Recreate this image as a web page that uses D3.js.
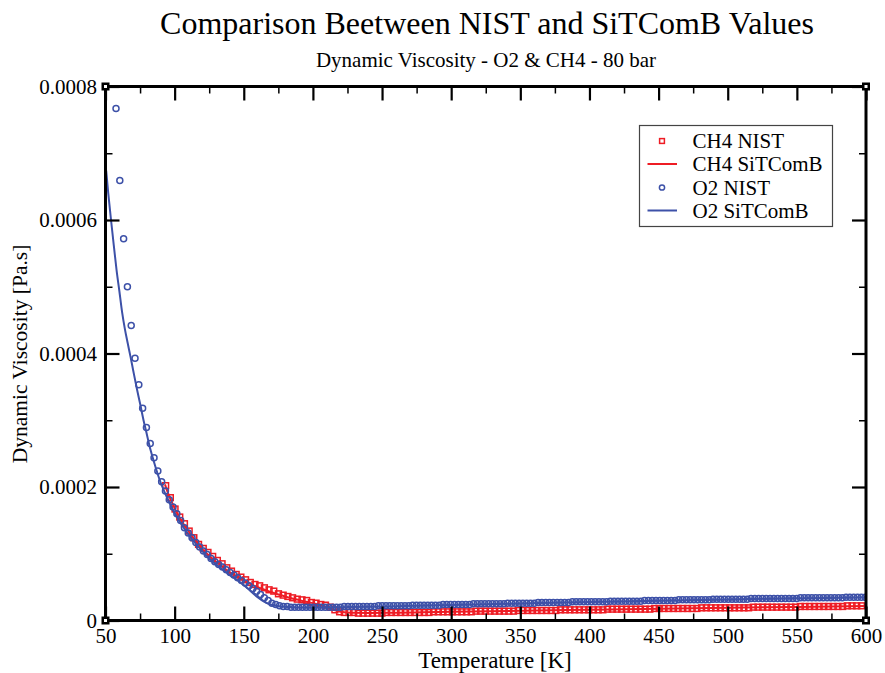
<!DOCTYPE html>
<html><head><meta charset="utf-8">
<script src="https://cdn.jsdelivr.net/npm/d3@7/dist/d3.min.js"></script>
<style>
html,body{margin:0;padding:0;background:#fff;}
text{font-family:"Liberation Serif","Times New Roman",serif;fill:#000;}
</style></head>
<body><svg id="chart" width="885" height="673"></svg>
<script>
// ---------- DATA (viscosity values in micro-Pa.s, i.e. 1e-6 Pa.s) ----------
const tempO2Nist = [
57.6,60.35,63.1,65.85,68.6,71.35,74.1,76.85,79.6,82.35,
85.1,87.85,90.6,93.35,96.1,98.85,101.6,104.35,107.1,109.85,
112.6,115.35,118.1,120.85,123.6,126.35,129.1,131.85,134.6,137.35,
140.1,142.85,145.6,148.35,151.1,153.85,156.6,159.35,162.1,164.85,
167.6,170.35,173.1,175.85,178.6,181.35,184.1,186.85,189.6,192.35,
195.1,197.85,200.6,203.35,206.1,208.85,211.6,214.35,217.1,219.85,
222.6,225.35,228.1,230.85,233.6,236.35,239.1,241.85,244.6,247.35,
250.1,252.85,255.6,258.35,261.1,263.85,266.6,269.35,272.1,274.85,
277.6,280.35,283.1,285.85,288.6,291.35,294.1,296.85,299.6,302.35,
305.1,307.85,310.6,313.35,316.1,318.85,321.6,324.35,327.1,329.85,
332.6,335.35,338.1,340.85,343.6,346.35,349.1,351.85,354.6,357.35,
360.1,362.85,365.6,368.35,371.1,373.85,376.6,379.35,382.1,384.85,
387.6,390.35,393.1,395.85,398.6,401.35,404.1,406.85,409.6,412.35,
415.1,417.85,420.6,423.35,426.1,428.85,431.6,434.35,437.1,439.85,
442.6,445.35,448.1,450.85,453.6,456.35,459.1,461.85,464.6,467.35,
470.1,472.85,475.6,478.35,481.1,483.85,486.6,489.35,492.1,494.85,
497.6,500.35,503.1,505.85,508.6,511.35,514.1,516.85,519.6,522.35,
525.1,527.85,530.6,533.35,536.1,538.85,541.6,544.35,547.1,549.85,
552.6,555.35,558.1,560.85,563.6,566.35,569.1,571.85,574.6,577.35,
580.1,582.85,585.6,588.35,591.1,593.85,596.6,599.35];
const visO2Nist = [
767,659,572,500,442,393,353,318,289,265,
244,224,208,194,181,170,160,150,139,131,
124,117,110,104,99,93,88,84,80,76,
72,68,64,60,56,52,48,44,39,34,
30,26,24,22,21,21,20,20,20,20,
20,20,20,20,20,20,20,20,20,20,
21,21,21,21,21,21,21,21,21,22,
22,22,22,22,22,22,22,22,23,23,
23,23,23,23,23,23,24,24,24,24,
24,24,24,24,25,25,25,25,25,25,
25,25,25,26,26,26,26,26,26,26,
26,27,27,27,27,27,27,27,27,27,
28,28,28,28,28,28,28,28,28,28,
29,29,29,29,29,29,29,29,29,30,
30,30,30,30,30,30,30,30,31,31,
31,31,31,31,31,31,31,32,32,32,
32,32,32,32,32,32,32,33,33,33,
33,33,33,33,33,33,33,33,33,33,
34,34,34,34,34,34,34,34,34,34,
34,34,35,35,35,35,35,35];

const tempCh4Nist = [
93.5,96.9,100.3,103.7,107.1,110.5,113.9,117.3,120.7,124.1,
127.5,130.9,134.3,137.7,141.1,144.5,147.9,151.3,154.7,158.1,
161.5,164.9,168.3,171.7,175.1,178.5,181.9,185.3,188.7,192.1,
195.5,198.9,202.3,205.7,209.1,212.5,215.9,219.3,222.7,226.1,
229.5,232.9,236.3,239.7,243.1,246.5,249.9,253.3,256.7,260.1,
263.5,266.9,270.3,273.7,277.1,280.5,283.9,287.3,290.7,294.1,
297.5,300.9,304.3,307.7,311.1,314.5,317.9,321.3,324.7,328.1,
331.5,334.9,338.3,341.7,345.1,348.5,351.9,355.3,358.7,362.1,
365.5,368.9,372.3,375.7,379.1,382.5,385.9,389.3,392.7,396.1,
399.5,402.9,406.3,409.7,413.1,416.5,419.9,423.3,426.7,430.1,
433.5,436.9,440.3,443.7,447.1,450.5,453.9,457.3,460.7,464.1,
467.5,470.9,474.3,477.7,481.1,484.5,487.9,491.3,494.7,498.1,
501.5,504.9,508.3,511.7,515.1,518.5,521.9,525.3,528.7,532.1,
535.5,538.9,542.3,545.7,549.1,552.5,555.9,559.3,562.7,566.1,
569.5,572.9,576.3,579.7,583.1,586.5,589.9,593.3,596.7];
const visCh4Nist = [
202,184,167,155,145,134,124,114,108,102,
96,90,85,79,74,69,65,61,57,54,
52,49,46,44,40,38,36,34,32,31,
30,27,26,24,23,20,16,13,12,12,
12,11,11,11,11,11,11,12,12,12,
12,12,12,12,12,12,12,13,13,13,
13,13,13,13,13,13,14,14,14,14,
14,14,14,14,14,15,15,15,15,15,
15,15,15,15,16,16,16,16,16,16,
16,16,16,16,17,17,17,17,17,17,
17,17,17,17,18,18,18,18,18,18,
18,18,18,18,19,19,19,19,19,19,
19,19,19,19,19,20,20,20,20,20,
20,20,20,20,20,21,21,21,21,21,
21,21,21,21,21,22,22,22,22];

const tempO2Model = [50.5,52,54,56,58,60,62,64,66,68,70,72.5,75,77.5,80,82.5,85,87.5,90,95,
100,105,110,115,120,125,130,135,140,145,150,155,160,165,170,175,180,185,190,200,
210,220,240,260,280,300,350,400,450,500,550,600];
const visO2Model = [674,640,600,562,525,494,462,437,416,396,375,349,325,300,278,256,238,221,206,182,
161,144,129,116,104,93,84,76,68,61,53,44,35,28,23.5,21.5,20.5,20,19.6,19.5,
19.7,20,20.6,21.4,22.3,23.2,25.5,27.6,29.6,31.5,33.2,34.8];

const tempCh4Model = [93,95,100,105,110,115,120,125,130,135,140,145,150,155,160,165,170,175,180,185,
190,195,200,205,210,215,220,225,230,240,260,280,300,350,400,450,500,550,600];
const visCh4Model = [204,192,168,149,134,120,107,97,88,80,72,66,60,54.5,50,46,42.5,39,36,33,
30.5,28,26,23.5,20,16,13,12,11.5,11.3,11.6,12.3,13,14.6,16.2,17.6,19,20.4,21.8];

const xTickValues = [50,100,150,200,250,300,350,400,450,500,550,600];
const xTickLabels = ["50","100","150","200","250","300","350","400","450","500","550","600"];
const xMinorValues = [75,125,175,225,275,325,375,425,475,525,575];
const yTickValues = [0,0.0002,0.0004,0.0006,0.0008];
const yTickLabels = ["0","0.0002","0.0004","0.0006","0.0008"];
const yMinorValues = [0.0001,0.0003,0.0005,0.0007];
const legendLabels = ["CH4 NIST","CH4 SiTComB","O2 NIST","O2 SiTComB"];
const titleText = "Comparison Beetween NIST and SiTComB Values";
const subtitleText = "Dynamic Viscosity - O2 & CH4 - 80 bar";
const xAxisTitle = "Temperature [K]";
const yAxisTitle = "Dynamic Viscosity [Pa.s]";
const UNIT = 1e-6;

// ---------- STYLE / LAYOUT ----------
const RED = "#ee1c24", BLUE = "#3d51a8";
const L = 105.5, R = 866, T = 86.5, B = 620.5;
const svg = d3.select("#chart");
svg.append("rect").attr("width",885).attr("height",673).attr("fill","#fff");

const x = d3.scaleLinear().domain([50,600]).range([L,R]);
const y = d3.scaleLinear().domain([0,0.0008]).range([B,T]);

svg.append("defs").append("clipPath").attr("id","clip")
  .append("rect").attr("x",L).attr("y",T).attr("width",R-L).attr("height",B-T);

// titles
svg.append("text").attr("x",487).attr("y",34).attr("text-anchor","middle")
  .style("font-size","32px").text(titleText);
svg.append("text").attr("x",486).attr("y",67).attr("text-anchor","middle")
  .style("font-size","21px").text(subtitleText);
svg.append("text").attr("x",495).attr("y",668).attr("text-anchor","middle")
  .style("font-size","23px").text(xAxisTitle);
svg.append("text").attr("transform","translate(27,354) rotate(-90)").attr("text-anchor","middle")
  .style("font-size","21.5px").text(yAxisTitle);

// data layer
const plot = svg.append("g").attr("clip-path","url(#clip)");
const ch4Nist = tempCh4Nist.map((t,i)=>[t,visCh4Nist[i]*UNIT]);
const ch4Model = tempCh4Model.map((t,i)=>[t,visCh4Model[i]*UNIT]);
const o2Nist = tempO2Nist.map((t,i)=>[t,visO2Nist[i]*UNIT]);
const o2Model = tempO2Model.map((t,i)=>[t,visO2Model[i]*UNIT]);
const line = d3.line().x(d=>x(d[0])).y(d=>y(d[1])).curve(d3.curveMonotoneX);

plot.append("g").selectAll("rect").data(ch4Nist).join("rect")
  .attr("x",d=>x(d[0])-2.9).attr("y",d=>y(d[1])-2.9).attr("width",5.8).attr("height",5.8)
  .attr("fill","none").attr("stroke",RED).attr("stroke-width",1.5);
plot.append("path").datum(ch4Model).attr("d",line)
  .attr("fill","none").attr("stroke",RED).attr("stroke-width",2);
plot.append("g").selectAll("circle").data(o2Nist).join("circle")
  .attr("cx",d=>x(d[0])).attr("cy",d=>y(d[1])).attr("r",3)
  .attr("fill","none").attr("stroke",BLUE).attr("stroke-width",1.5);
plot.append("path").datum(o2Model).attr("d",line)
  .attr("fill","none").attr("stroke",BLUE).attr("stroke-width",2);

// axes (inward ticks on all sides)
function styleAxis(g, w){ g.select(".domain").remove(); g.selectAll(".tick line").attr("stroke","#000").attr("stroke-width",w); }
svg.append("g").attr("transform",`translate(0,${B})`)
  .call(d3.axisBottom(x).tickValues(xTickValues).tickSize(-14).tickPadding(7.5).tickFormat((d,i)=>xTickLabels[i]))
  .call(g=>styleAxis(g,2.2)).call(g=>g.selectAll("text").style("font-size","21px").style("font-family","Liberation Serif"));
svg.append("g").attr("transform",`translate(0,${B})`)
  .call(d3.axisBottom(x).tickValues(xMinorValues).tickSize(-7).tickFormat(""))
  .call(g=>styleAxis(g,1.5));
svg.append("g").attr("transform",`translate(0,${T})`)
  .call(d3.axisTop(x).tickValues(xTickValues).tickSize(-14).tickFormat(""))
  .call(g=>styleAxis(g,2.2));
svg.append("g").attr("transform",`translate(0,${T})`)
  .call(d3.axisTop(x).tickValues(xMinorValues).tickSize(-7).tickFormat(""))
  .call(g=>styleAxis(g,1.5));
svg.append("g").attr("transform",`translate(${L},0)`)
  .call(d3.axisLeft(y).tickValues(yTickValues).tickSize(-14).tickPadding(8.5).tickFormat((d,i)=>yTickLabels[i]))
  .call(g=>styleAxis(g,2.2)).call(g=>g.selectAll("text").style("font-size","21px").style("font-family","Liberation Serif"));
svg.append("g").attr("transform",`translate(${L},0)`)
  .call(d3.axisLeft(y).tickValues(yMinorValues).tickSize(-7).tickFormat(""))
  .call(g=>styleAxis(g,1.5));
svg.append("g").attr("transform",`translate(${R},0)`)
  .call(d3.axisRight(y).tickValues(yTickValues).tickSize(-14).tickFormat(""))
  .call(g=>styleAxis(g,2.2));
svg.append("g").attr("transform",`translate(${R},0)`)
  .call(d3.axisRight(y).tickValues(yMinorValues).tickSize(-7).tickFormat(""))
  .call(g=>styleAxis(g,1.5));

// frame
svg.append("rect").attr("x",L).attr("y",T).attr("width",R-L).attr("height",B-T)
  .attr("fill","none").attr("stroke","#000").attr("stroke-width",3);
// corner squares
[[L,T],[R,T],[L,B],[R,B]].forEach(([cx,cy])=>{
  svg.append("rect").attr("x",cx-4).attr("y",cy-4).attr("width",8).attr("height",8).attr("fill","#000");
  svg.append("rect").attr("x",cx-1.5).attr("y",cy-1.5).attr("width",3).attr("height",3).attr("fill","#fff");
});

// legend
const lg = svg.append("g");
lg.append("rect").attr("x",639.5).attr("y",125.5).attr("width",193).attr("height",101)
  .attr("fill","#fff").attr("stroke","#444").attr("stroke-width",1.2);
const rowY = [141,164,187.5,210.5];
legendLabels.forEach((lab,i)=>{
  const yy = rowY[i];
  const col = i<2 ? RED : BLUE;
  if(i===0) lg.append("rect").attr("x",662-2.4).attr("y",yy-2.4).attr("width",4.8).attr("height",4.8)
      .attr("fill","none").attr("stroke",col).attr("stroke-width",1.5);
  if(i===2) lg.append("circle").attr("cx",662).attr("cy",yy).attr("r",2.6)
      .attr("fill","none").attr("stroke",col).attr("stroke-width",1.5);
  if(i===1||i===3) lg.append("line").attr("x1",647.5).attr("x2",677).attr("y1",yy).attr("y2",yy)
      .attr("stroke",col).attr("stroke-width",2);
  lg.append("text").attr("x",692.5).attr("y",yy+7).style("font-size","21px").text(lab);
});
</script></body></html>
